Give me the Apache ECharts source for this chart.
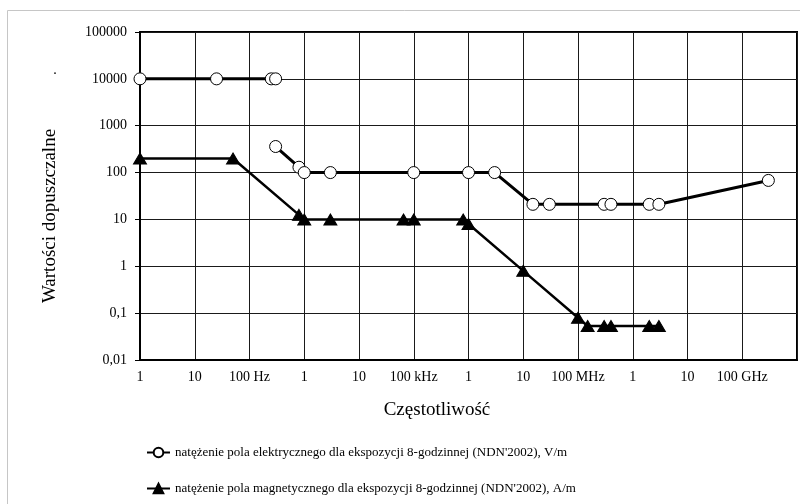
<!DOCTYPE html>
<html>
<head>
<meta charset="utf-8">
<script src="https://cdn.jsdelivr.net/npm/echarts@6/dist/echarts.min.js"></script>
<style>html,body{margin:0;padding:0;background:#fff}#c{width:800px;height:504px}</style>
</head>
<body>
<div id="c"></div>
<script>
// Frequencies (Hz) and permissible values
const elFreq  = [1, 25, 250, 300, 300, 300, 800, 1000, 3000, 1e5, 1e6, 3e6, 1.5e7, 3e7, 3e8, 4e8, 2e9, 3e9, 3e11];
const elValue = [10000, 10000, 10000, 10000, null, 360, 130, 100, 100, 100, 100, 100, 21, 21, 21, 21, 21, 21, 68];
const magFreq  = [1, 50, 800, 1000, 3000, 65000, 1e5, 8e5, 1e6, 1e7, 1e8, 1.5e8, 3e8, 4e8, 2e9, 3e9];
const magValue = [200, 200, 12.5, 10, 10, 10, 10, 10, 8, 0.8, 0.08, 0.053, 0.053, 0.053, 0.053, 0.053];
const xTickLabels = ['1', '10', '100 Hz', '1', '10', '100 kHz', '1', '10', '100 MHz', '1', '10', '100 GHz', ''];
const yTickLabels = ['0,01', '0,1', '1', '10', '100', '1000', '10000', '100000'];
const elName  = "natężenie pola elektrycznego dla ekspozycji 8-godzinnej (NDN'2002), V/m";
const magName = "natężenie pola magnetycznego dla ekspozycji 8-godzinnej (NDN'2002), A/m";
const xTitle = 'Częstotliwość';
const yTitle = 'Wartości dopuszczalne';

const FONT = '"Liberation Serif", "Times New Roman", serif';
const pair = (xs, ys) => xs.map((x, i) => [x, ys[i] == null ? '-' : ys[i]]);

const chart = echarts.init(document.getElementById('c'), null, {renderer: 'canvas'});
chart.setOption({
  animation: false,
  backgroundColor: '#fff',
  textStyle: {fontFamily: FONT, color: '#000'},
  grid: {left: 140, right: 3, top: 32, bottom: 144, show: true, borderColor: '#000', borderWidth: 2, backgroundColor: 'transparent'},
  xAxis: {
    type: 'log', logBase: 10, min: 1, max: 1e12, splitNumber: 12, interval: 1,
    axisLine: {show: true, lineStyle: {color: '#000', width: 2}},
    axisTick: {show: false},
    splitLine: {show: true, lineStyle: {color: '#1a1a1a', width: 1}},
    axisLabel: {
      fontFamily: FONT, fontSize: 14, color: '#000', margin: 10,
      formatter: v => xTickLabels[Math.round(Math.log10(v))] || ''
    }
  },
  yAxis: {
    type: 'log', logBase: 10, min: 0.01, max: 100000,
    axisLine: {show: true, lineStyle: {color: '#000', width: 2}},
    axisTick: {show: true, length: 5, lineStyle: {color: '#000', width: 1}},
    splitLine: {show: true, lineStyle: {color: '#1a1a1a', width: 1}},
    axisLabel: {
      fontFamily: FONT, fontSize: 14, color: '#000', margin: 13,
      formatter: v => yTickLabels[Math.round(Math.log10(v)) + 2] || ''
    }
  },
  legend: {
    orient: 'vertical', left: 141, top: 441, itemWidth: 23, itemHeight: 12, itemGap: 23,
    textStyle: {fontFamily: FONT, fontSize: 13, color: '#000'},
    data: [elName, magName]
  },
  series: [
    {
      name: elName, type: 'line', data: pair(elFreq, elValue), connectNulls: false,
      symbol: 'circle', symbolSize: 12,
      lineStyle: {color: '#000', width: 3},
      itemStyle: {color: '#fff', borderColor: '#000', borderWidth: 1}
    },
    {
      name: magName, type: 'line', data: pair(magFreq, magValue),
      symbol: 'triangle', symbolSize: [13, 11],
      lineStyle: {color: '#000', width: 2.5},
      itemStyle: {color: '#000', borderColor: '#000', borderWidth: 1}
    }
  ],
  graphic: [
    {type: 'rect', silent: true, shape: {x: 7.5, y: 10.5, width: 900, height: 600}, style: {fill: 'none', stroke: '#c6c6c6', lineWidth: 1}},
    {type: 'text', silent: true, x: 50, y: 216, rotation: Math.PI / 2,
      style: {text: yTitle, font: '19px ' + FONT, fill: '#000', align: 'center', verticalAlign: 'middle'}},
    {type: 'text', silent: true, x: 55, y: 70,
      style: {text: '.', font: '14px ' + FONT, fill: '#000', align: 'center', verticalAlign: 'middle'}},
    {type: 'text', silent: true, x: 437, y: 410,
      style: {text: xTitle, font: '19px ' + FONT, fill: '#000', align: 'center', verticalAlign: 'middle'}}
  ]
});
</script>
</body>
</html>
